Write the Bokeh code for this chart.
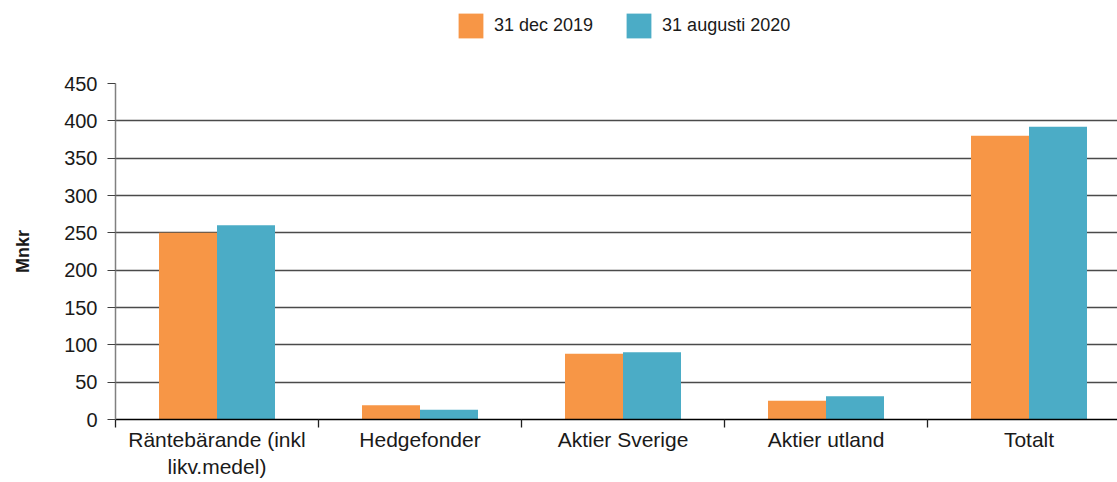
import numpy as np
from bokeh.plotting import figure
from bokeh.layouts import column
from bokeh.models import ColumnDataSource, FixedTicker, Legend, LegendItem, Range1d
from bokeh.embed import file_html
from bokeh.resources import INLINE

categories = ["Räntebärande (inkl\nlikv.medel)", "Hedgefonder", "Aktier Sverige", "Aktier utland", "Totalt"]
series_names = ["31 dec 2019", "31 augusti 2020"]
values_2019 = [250, 19, 88, 25, 380]
values_2020 = [260, 13, 90, 31, 392]
y_ticks = [0, 50, 100, 150, 200, 250, 300, 350, 400, 450]
y_label = "Mnkr"
colors = ["#F79646", "#4BACC6"]

FONT = "Liberation Sans"
n = len(categories)
idx = np.arange(n)
centers = idx + 0.5
bar_w = 58 / 203

src = ColumnDataSource(dict(
    x1=centers - bar_w / 2, x2=centers + bar_w / 2,
    v1=values_2019, v2=values_2020,
))

# ---- legend strip (top); its frame is aligned with the main chart's frame ----
pl = figure(width=1117, height=70, x_range=Range1d(0, 1), y_range=Range1d(0, 1),
            output_backend="svg", toolbar_location=None, min_border=0)
pl.axis.visible = False
pl.grid.grid_line_color = None
pl.outline_line_color = None
# swatch-only renderers (kept outside the visible range)
d1 = pl.vbar(x=[-5], top=[0], width=0.1, fill_color=colors[0], line_color=None)
d2 = pl.vbar(x=[-5], top=[0], width=0.1, fill_color=colors[1], line_color=None)
legend = Legend(items=[LegendItem(label=series_names[0], renderers=[d1]),
                       LegendItem(label=series_names[1], renderers=[d2])],
                location=(340, 29), orientation="horizontal",
                glyph_width=31, glyph_height=31, label_height=31, label_standoff=8,
                spacing=30, padding=0, margin=0, border_line_color=None,
                background_fill_alpha=0,
                label_text_font=FONT, label_text_font_size="18px", label_text_color="#1a1a1a")
pl.add_layout(legend)

# ---- main chart ----
p = figure(width=1117, height=412, x_range=Range1d(0, 1002 / 203), y_range=Range1d(0, 450),
           output_backend="svg", toolbar_location=None,
           min_border_left=115, min_border_right=0, min_border_top=13, min_border_bottom=63)
p.outline_line_color = None
p.background_fill_color = "white"

p.vbar(x="x1", top="v1", width=bar_w, source=src, fill_color=colors[0], line_color=None)
p.vbar(x="x2", top="v2", width=bar_w, source=src, fill_color=colors[1], line_color=None)

p.xgrid.grid_line_color = None
p.ygrid.ticker = FixedTicker(ticks=y_ticks)
p.ygrid.grid_line_color = "#4a4a4a"
p.ygrid.grid_line_width = 1.3

ya = p.yaxis[0]
ya.ticker = FixedTicker(ticks=y_ticks)
ya.axis_line_color = "#808080"
ya.axis_line_width = 1.5
ya.major_tick_line_color = "#404040"
ya.major_tick_in = 0
ya.major_tick_out = 8
ya.minor_tick_line_color = None
ya.major_label_text_font = FONT
ya.major_label_text_font_size = "20px"
ya.major_label_text_color = "#1a1a1a"
ya.major_label_standoff = 10
ya.axis_label = y_label
ya.axis_label_standoff = 28
ya.axis_label_text_font = FONT
ya.axis_label_text_font_size = "18px"
ya.axis_label_text_font_style = "bold"
ya.axis_label_text_color = "#1a1a1a"

xa = p.xaxis[0]
xa.ticker = FixedTicker(ticks=list(centers), minor_ticks=[float(i) for i in range(n + 1)])
xa.major_label_overrides = {float(c): lab for c, lab in zip(centers, categories)}
xa.axis_line_color = "black"
xa.axis_line_width = 1.5
xa.major_tick_line_color = None
xa.major_tick_in = 0
xa.major_tick_out = 0
xa.minor_tick_line_color = "#202020"
xa.minor_tick_line_width = 1.3
xa.minor_tick_in = 0
xa.minor_tick_out = 8
xa.major_label_text_font = FONT
xa.major_label_text_font_size = "21px"
xa.major_label_text_color = "#1a1a1a"
xa.major_label_standoff = 0

layout = column(pl, p, spacing=0)
open("out.html", "w").write(file_html(layout, INLINE))
